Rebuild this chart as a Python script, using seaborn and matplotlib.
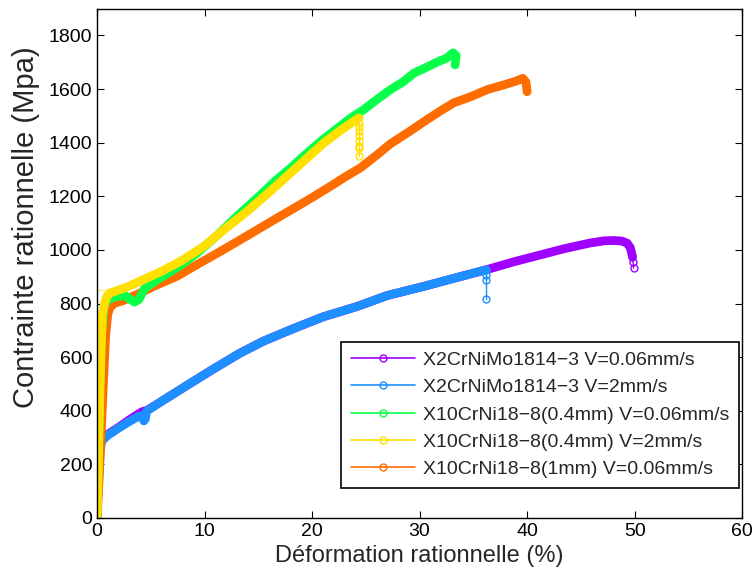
import matplotlib
matplotlib.use('Agg')
import matplotlib.pyplot as plt
import pandas as pd
import seaborn as sns
from matplotlib.lines import Line2D

# Courbes de traction (deformation %, contrainte MPa)
labels = ['X2CrNiMo1814\u22123 V=0.06mm/s',
          'X2CrNiMo1814\u22123 V=2mm/s',
          'X10CrNi18\u22128(0.4mm) V=0.06mm/s',
          'X10CrNi18\u22128(0.4mm) V=2mm/s',
          'X10CrNi18\u22128(1mm) V=0.06mm/s']
colors = ['#a000ff', '#1e8fff', '#0aff4a', '#ffe000', '#ff6c00']

purple_x = [0.0, 0.05, 0.2, 0.4, 1.0, 2.0, 3.0, 4.0, 4.3, 4.6, 6.0, 8.7, 11.0, 13.3, 15.5, 18.0,
            21.0, 24.2, 27.0, 30.4, 33.0, 36.3, 38.8, 41.3, 43.5, 45.9, 47.2, 48.1, 48.8, 49.3, 49.6, 49.8]
purple_y = [0, 150, 290, 300, 312, 338, 366, 392, 398, 400, 435, 503, 560, 615, 660, 702,
            750, 789, 830, 864, 892, 927, 956, 982, 1005, 1026, 1034, 1035, 1033, 1025, 1008, 975]
purple_tail_x = [49.8, 49.85, 49.9]
purple_tail_y = [975, 955, 932]

blue_x = [0.0, 0.1, 0.3, 0.45, 1.0, 2.0, 3.0, 3.9, 4.2, 4.35, 4.5, 4.6, 6.0, 8.7, 11.0, 13.3,
          15.5, 18.0, 21.0, 24.2, 27.0, 30.4, 33.0, 36.2]
blue_y = [0, 100, 250, 288, 308, 335, 360, 380, 380, 362, 370, 398, 435, 503, 560, 615,
          660, 702, 750, 789, 830, 864, 892, 926]
blue_tail_x = [36.2, 36.2, 36.2, 36.2]
blue_tail_y = [926, 905, 889, 817]

green_x = [0.0, 0.1, 0.25, 0.45, 0.65, 1.0, 1.8, 2.6, 3.1, 3.5, 3.9, 4.4, 5.6, 7.5, 9.3, 11.2,
           13.0, 14.8, 16.7, 18.0, 19.2, 20.8, 22.6, 23.7, 24.8, 26.0, 27.3, 28.4, 29.5, 30.6,
           31.6, 32.5, 33.1, 33.4, 33.3]
green_y = [0, 200, 480, 700, 790, 815, 826, 830, 815, 805, 815, 855, 889, 935, 988, 1055,
           1125, 1190, 1262, 1305, 1349, 1405, 1461, 1495, 1523, 1560, 1598, 1625, 1660, 1680,
           1700, 1715, 1735, 1725, 1690]

yellow_x = [0.0, 0.1, 0.2, 0.35, 0.5, 0.7, 0.9, 1.2, 2.0, 3.0, 4.3, 6.0, 8.0, 10.0, 11.8, 14.0,
            16.1, 18.5, 21.1, 22.8, 24.35]
yellow_y = [0, 150, 350, 600, 760, 800, 825, 839, 850, 865, 889, 920, 963, 1015, 1075, 1145,
            1218, 1305, 1399, 1450, 1492]
yellow_tail_x = [24.35, 24.35, 24.35, 24.35, 24.35, 24.35, 24.35, 24.35]
yellow_tail_y = [1474, 1459, 1443, 1424, 1405, 1387, 1381, 1352]
yellow_flat_x = [0.0, 1.4]
yellow_flat_y = [851, 851]

orange_x = [0.0, 0.2, 0.5, 0.8, 1.0, 1.2, 1.6, 2.5, 4.0, 5.5, 7.4, 9.3, 11.2, 13.0, 14.9,
            16.8, 18.6, 20.2, 21.7, 23.2, 24.5, 25.9, 27.3, 29.0, 30.7, 32.0, 33.2, 34.8,
            36.3, 37.8, 39.0, 39.6, 39.9, 40.0]
orange_y = [0, 150, 420, 680, 760, 785, 800, 812, 839, 868, 901, 945, 988, 1030, 1075,
            1120, 1162, 1200, 1237, 1275, 1306, 1350, 1396, 1440, 1486, 1520, 1549, 1572,
            1598, 1615, 1630, 1640, 1625, 1590]

series = {
    'purple': ((purple_x, purple_y), (purple_tail_x, purple_tail_y), colors[0]),
    'blue': ((blue_x, blue_y), (blue_tail_x, blue_tail_y), colors[1]),
    'orange': ((orange_x, orange_y), None, colors[4]),
    'green': ((green_x, green_y), None, colors[2]),
    'yellow': ((yellow_x, yellow_y), (yellow_tail_x, yellow_tail_y), colors[3]),
}

sns.set_theme(style='ticks')
plt.rcParams['font.family'] = ['Liberation Sans', 'DejaVu Sans']
plt.rcParams['xtick.direction'] = 'in'
plt.rcParams['ytick.direction'] = 'in'

fig, ax = plt.subplots(figsize=(7.55, 5.74), dpi=100)
fig.subplots_adjust(left=0.1285, right=0.983, bottom=0.0976, top=0.985)

for name, (body, tail, c) in series.items():
    if tail is not None:
        sns.lineplot(x=tail[0], y=tail[1], color=c, sort=False, estimator=None, lw=1,
                     marker='o', markersize=5, markerfacecolor='none', markeredgecolor=c,
                     markeredgewidth=1, ax=ax)
    sns.lineplot(x=body[0], y=body[1], color=c, sort=False, estimator=None, lw=6.3,
                 solid_capstyle='round', solid_joinstyle='round', ax=ax)

ax.plot(yellow_flat_x, yellow_flat_y, color=colors[3], lw=1, alpha=0.6)

ax.set_xlim(0, 60)
ax.set_ylim(0, 1900)
ax.set_xticks(range(0, 61, 10))
ax.set_yticks(range(0, 1801, 200))
ax.tick_params(labelsize=14, top=True, right=True, length=5, width=0.8, colors='black')
for s in ax.spines.values():
    s.set_visible(True)
    s.set_color('black')
    s.set_linewidth(1.0)

ax.set_xlabel('D\u00e9formation rationnelle (%)', fontsize=17)
ax.set_ylabel('Contrainte rationnelle (Mpa)', fontsize=21)
ax.yaxis.set_label_coords(-0.088, 0.57)

handles = [Line2D([], [], color=c, lw=1.2, marker='o', markersize=5, markerfacecolor='none')
           for c in colors]
leg = ax.legend(handles, labels, loc='lower right', bbox_to_anchor=(0.995, 0.059),
                borderaxespad=0, fontsize=14, handlelength=3.3, handletextpad=0.4,
                labelspacing=0.5, borderpad=0.5, fancybox=False, framealpha=1,
                edgecolor='black')
leg.get_frame().set_linewidth(1.2)

fig.savefig('out.png', dpi=100)
